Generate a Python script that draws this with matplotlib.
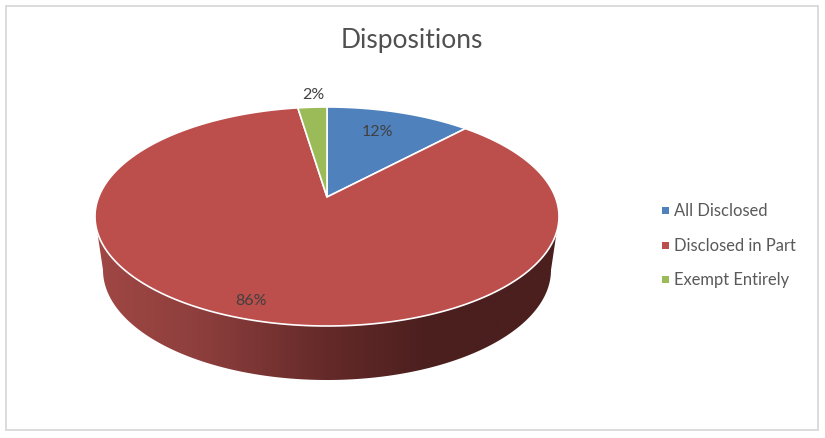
"""3D-look pie of request dispositions, drawn in pixel coordinates."""
import numpy as np
import matplotlib
matplotlib.use("Agg")
import matplotlib.pyplot as plt
from matplotlib.colors import LinearSegmentedColormap
from matplotlib.patches import Polygon, Rectangle

categories = ["All Disclosed", "Disclosed in Part", "Exempt Entirely"]
shares = [12.0, 85.6, 2.4]
pct_labels = ["12%", "86%", "2%"]

COLORS = ["#4F81BD", "#BC4E4B", "#9BBB59"]
TEXT = "#404040"; TITLE = "#505050"; LEGEND_TEXT = "#595959"; BORDER = "#D9D9D9"
CX, CY, RX, RY = 327.0, 216.5, 232.0, 109.5   # top face ellipse
PERSP = 0.178                                  # how far the apex is pushed back
LOW_CY, LOW_RX, LOW_RY = 270.0, 224.0, 110.0   # bottom edge of the wall
LABEL_XY = [(377, 132), (251, 301), (313, 95)]
LEGEND_Y = [211, 246, 280]

plt.rcParams["font.family"] = ["Lato", "DejaVu Sans"]


def rim(deg):
    # clockwise degrees from 12 o'clock -> pixel, circle seen in perspective
    t = np.radians(deg)
    u, v = np.sin(t), np.cos(t)
    w = 1 + PERSP * v
    return CX + RX * u * np.sqrt(1 - PERSP**2) / w, CY - RY * (v + PERSP) / w


fig = plt.figure(figsize=(8.25, 4.38), dpi=100)
ax = fig.add_axes([0, 0, 1, 1])
ax.set_xlim(0, 825); ax.set_ylim(438, 0); ax.axis("off")
ax.add_patch(Rectangle((6, 6), 812, 424, fill=False, edgecolor=BORDER, lw=1.3))

# wall with the dark-to-the-right shading
a = np.radians(np.linspace(180, 360, 200))
low = np.c_[CX + LOW_RX * np.cos(a), LOW_CY - LOW_RY * np.sin(a)]
wall_pts = np.vstack([[CX - RX, CY], low, [CX + RX, CY]])
wall = Polygon(wall_pts, closed=True, facecolor="none", edgecolor="none")
ax.add_patch(wall)
shade = LinearSegmentedColormap.from_list(
    "wall", [(0, "#A04744"), (0.22, "#8E3F3D"), (0.5, "#642A29"), (0.72, "#4B1F1E"), (1, "#4B1F1E")])
im = ax.imshow(np.linspace(0, 1, 256)[None, :], cmap=shade, aspect="auto",
               extent=(CX - RX, CX + RX, 385, CY), zorder=1)
im.set_clip_path(wall)
ax.set_xlim(0, 825); ax.set_ylim(438, 0)

# top face, slices run clockwise from 12 o'clock
edges = np.cumsum([0] + shares) * 3.6
apex = (CX, CY - RY * PERSP)
for i in range(len(shares)):
    d = np.linspace(edges[i], edges[i + 1], 300)
    x, y = rim(d)
    pts = np.vstack([apex, np.c_[x, y]])
    ax.add_patch(Polygon(pts, closed=True, facecolor=COLORS[i], edgecolor="white",
                         lw=1.2, joinstyle="miter", zorder=2))

for (x, y), s in zip(LABEL_XY, pct_labels):
    ax.text(x, y, s, ha="center", va="center", fontsize=11.5, color=TEXT, zorder=3)

ax.text(412, 40.5, "Dispositions", ha="center", va="center", fontsize=19, color=TITLE)
for y, c, s in zip(LEGEND_Y, COLORS, categories):
    ax.add_patch(Rectangle((662, y - 4), 7, 7, facecolor=c, edgecolor="none"))
    ax.text(674, y, s, ha="left", va="center", fontsize=11.9, color=LEGEND_TEXT)

fig.savefig("out.png", dpi=100, facecolor="white")
